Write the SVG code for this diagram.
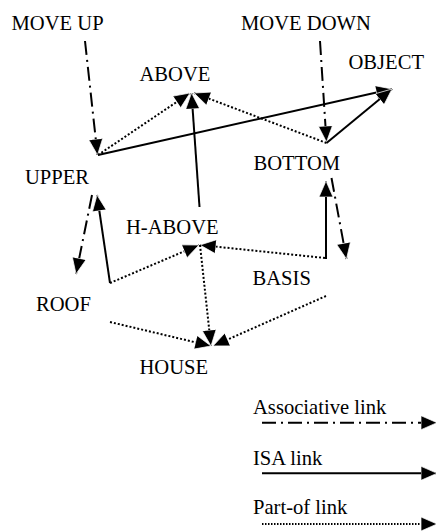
<svg xmlns="http://www.w3.org/2000/svg" width="436" height="531" viewBox="0 0 436 531">
<style>
.isa{fill:none;stroke:#000;stroke-width:2;marker-end:url(#ah)}
.part{fill:none;stroke:#000;stroke-width:2;stroke-dasharray:2 2;marker-end:url(#ah)}
.assoc{fill:none;stroke:#000;stroke-width:2;stroke-dasharray:14 5 2 5;marker-end:url(#ah)}
</style>
<defs>
<marker id="ah" markerUnits="userSpaceOnUse" viewBox="0 0 16 14" markerWidth="16" markerHeight="14" refX="16" refY="7" orient="auto">
<path d="M0,0 L16,7 L0,14 z" fill="#000" stroke="#fff" stroke-width="0.7"/>
</marker>
</defs>
<g id="connectors">
<line class="assoc" x1="85" y1="41" x2="97.5" y2="155"/>
<line class="assoc" x1="320" y1="41" x2="326.5" y2="142"/>
<line class="assoc" x1="92" y1="195" x2="76" y2="274"/>
<line class="assoc" x1="331.5" y1="178" x2="346.5" y2="259"/>
<line class="isa" x1="98" y1="155" x2="392" y2="89"/>
<line class="isa" x1="326.5" y1="143" x2="392" y2="89"/>
<line class="isa" x1="199.5" y1="207" x2="191.5" y2="93"/>
<line class="isa" x1="110" y1="283" x2="97" y2="195"/>
<line class="isa" x1="326" y1="259" x2="326" y2="181"/>
<line class="part" x1="98" y1="155" x2="190" y2="93"/>
<line class="part" x1="326.5" y1="143" x2="194" y2="93"/>
<line class="part" x1="110" y1="283" x2="199" y2="245"/>
<line class="part" x1="325" y1="258" x2="200" y2="245"/>
<line class="part" x1="200" y1="245" x2="211" y2="346"/>
<line class="part" x1="110" y1="322" x2="211" y2="346"/>
<line class="part" x1="326" y1="296" x2="213" y2="346"/>
</g>
<g font-family="Liberation Serif, Times New Roman, serif" font-size="20.6" fill="#000">
<g id="move-up"><text x="11.5" y="30">MOVE UP</text></g>
<g id="move-down"><text x="241" y="30">MOVE DOWN</text></g>
<g id="above"><text x="139.5" y="81">ABOVE</text></g>
<g id="object"><text x="348.5" y="69">OBJECT</text></g>
<g id="upper"><text x="25" y="183.5">UPPER</text></g>
<g id="bottom"><text x="253.5" y="169.5">BOTTOM</text></g>
<g id="h-above"><text x="126" y="233.5">H-ABOVE</text></g>
<g id="basis"><text x="252.5" y="285">BASIS</text></g>
<g id="roof"><text x="36" y="311">ROOF</text></g>
<g id="house"><text x="139.5" y="373.5">HOUSE</text></g>
<g id="legend">
<text x="253" y="413.5">Associative link</text>
<line class="assoc" x1="262" y1="422.7" x2="437" y2="422.7"/>
<text x="253" y="465">ISA link</text>
<line class="isa" x1="262" y1="473.3" x2="437" y2="473.3"/>
<text x="253" y="513.5">Part-of link</text>
<line class="part" style="stroke-dasharray:1.5 1.5" x1="262" y1="524" x2="437" y2="524"/>
</g>
</g>
</svg>
